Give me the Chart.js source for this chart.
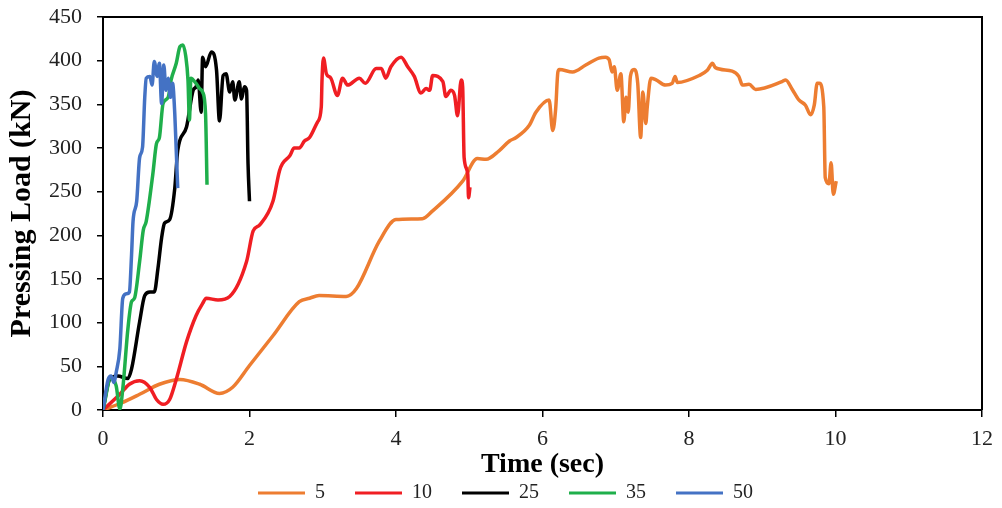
<!DOCTYPE html>
<html>
<head>
<meta charset="utf-8">
<script src="https://cdn.jsdelivr.net/npm/chart.js@4"></script>
<style>
  html, body { margin: 0; padding: 0; background: #ffffff; }
  canvas { display: block; }
</style>
</head>
<body>
<canvas id="chart" width="1002" height="508"></canvas>
<script>
// Pressing load vs. time for five pressing speeds
const seriesNames = ['5', '10', '25', '35', '50'];
const seriesColors = ['#ED7D31', '#F01E23', '#000000', '#1FAF4B', '#4472C4'];

const time5 = [0, 0.25, 0.5, 0.77, 1.05, 1.32, 1.59, 1.77, 2.0, 2.32, 2.68, 2.82, 2.95, 3.32, 3.46, 3.77, 4.0, 4.36, 4.5, 4.91, 5.11, 5.23, 5.41, 5.55, 5.64, 5.82, 5.91, 6.09, 6.14, 6.18, 6.21, 6.23, 6.41, 6.59, 6.77, 6.86, 6.91, 6.95, 6.98, 7.02, 7.07, 7.11, 7.14, 7.17, 7.2, 7.25, 7.3, 7.34, 7.37, 7.41, 7.43, 7.48, 7.55, 7.68, 7.77, 7.81, 7.84, 8.14, 8.25, 8.32, 8.36, 8.59, 8.68, 8.73, 8.82, 8.91, 9.27, 9.32, 9.41, 9.5, 9.59, 9.66, 9.71, 9.75, 9.78, 9.84, 9.86, 9.91, 9.94, 9.97, 10.01];
const load5 = [0, 8, 18, 29.5, 35, 29.5, 19, 26, 51, 85, 124, 128, 131, 130, 139, 193, 218, 219, 228, 262, 288, 287, 297, 308, 312, 326, 341, 355, 320, 345, 387, 390, 387, 395, 403, 404, 401, 387, 393, 366, 385, 330, 358, 341, 382, 390, 374, 312, 364, 328, 347, 380, 378, 372, 374, 382, 375, 383, 389, 397, 392, 388, 382, 372, 373, 367, 376, 378, 367, 355, 349, 338, 349, 374, 374, 347, 266, 259, 283, 247, 262];

const time10 = [0, 0.23, 0.36, 0.5, 0.64, 0.73, 0.82, 0.91, 1.0, 1.14, 1.27, 1.36, 1.41, 1.57, 1.73, 1.96, 2.05, 2.14, 2.32, 2.41, 2.45, 2.55, 2.61, 2.68, 2.75, 2.82, 2.93, 2.98, 2.99, 3.01, 3.05, 3.11, 3.2, 3.27, 3.34, 3.5, 3.58, 3.73, 3.8, 3.86, 3.93, 4.07, 4.16, 4.25, 4.34, 4.41, 4.46, 4.5, 4.64, 4.68, 4.75, 4.8, 4.84, 4.89, 4.91, 4.93, 4.98, 4.99, 5.01];
const load10 = [0, 18, 29.5, 33.5, 25.7, 12, 6.5, 12, 35, 78, 108, 122, 128, 126, 130, 170, 205, 212, 239, 274, 282, 291, 300, 300, 308, 312, 330, 347, 378, 403, 385, 380, 360, 380, 372, 380, 374, 391, 391, 380, 393, 404, 393, 382, 363, 368, 366, 383, 376, 359, 366, 360, 337, 378, 370, 289, 270, 243, 255];

const time25 = [0, 0.09, 0.2, 0.34, 0.39, 0.5, 0.57, 0.64, 0.7, 0.75, 0.8, 0.84, 0.91, 0.98, 1.02, 1.14, 1.23, 1.27, 1.3, 1.34, 1.36, 1.4, 1.48, 1.55, 1.59, 1.64, 1.68, 1.73, 1.77, 1.8, 1.86, 1.89, 1.93, 1.96, 1.98, 2.0];
const load25 = [0, 35, 39, 36, 47, 101, 131, 135, 135, 162, 197, 214, 218, 254, 297, 324, 366, 370, 378, 341, 404, 393, 410, 389, 331, 383, 385, 364, 376, 355, 376, 356, 370, 366, 282, 239];

const time35 = [0, 0.11, 0.18, 0.23, 0.27, 0.34, 0.39, 0.43, 0.5, 0.55, 0.59, 0.68, 0.73, 0.77, 0.82, 0.89, 0.93, 1.0, 1.05, 1.09, 1.13, 1.16, 1.18, 1.2, 1.27, 1.32, 1.36, 1.4, 1.42];
const load35 = [0, 37, 27.7, 1, 24, 93, 124, 128, 170, 206, 216, 270, 305, 312, 351, 358, 378, 397, 416, 418, 405, 378, 332, 380, 374, 368, 364, 339, 258];

const time50 = [0, 0.07, 0.11, 0.15, 0.18, 0.23, 0.27, 0.32, 0.36, 0.39, 0.41, 0.46, 0.5, 0.54, 0.57, 0.59, 0.64, 0.67, 0.7, 0.74, 0.77, 0.8, 0.83, 0.86, 0.89, 0.92, 0.95, 0.98, 1.0, 1.02];
const load50 = [0, 35, 39, 31.5, 43, 70, 128, 133, 135, 178, 216, 239, 289, 301, 358, 380, 382, 372, 399, 382, 397, 351, 395, 366, 380, 358, 374, 339, 297, 254];

const xTicks = [0, 2, 4, 6, 8, 10, 12];
const yTicks = [0, 50, 100, 150, 200, 250, 300, 350, 400, 450];

const timeSeries = [time5, time10, time25, time35, time50];
const loadSeries = [load5, load10, load25, load35, load50];

const serif = "'Liberation Serif', 'Times New Roman', serif";

const datasets = seriesNames.map((name, i) => ({
  label: name,
  data: timeSeries[i].map((t, k) => ({ x: t, y: loadSeries[i][k] })),
  borderColor: seriesColors[i],
  backgroundColor: seriesColors[i],
  borderWidth: 3.5,
  pointRadius: 0,
  showLine: true,
  fill: false,
  cubicInterpolationMode: 'monotone',
  order: seriesNames.length - i
}));

// frame on the top and right of the plot area
const plotFrame = {
  id: 'plotFrame',
  afterDatasetsDraw(chart) {
    const { ctx, chartArea: a } = chart;
    ctx.save();
    ctx.strokeStyle = '#000';
    ctx.lineWidth = 2;
    ctx.beginPath();
    ctx.moveTo(a.left, a.top);
    ctx.lineTo(a.right, a.top);
    ctx.lineTo(a.right, a.bottom);
    ctx.stroke();
    ctx.restore();
  }
};

new Chart(document.getElementById('chart'), {
  type: 'scatter',
  data: { datasets },
  plugins: [plotFrame],
  options: {
    responsive: false,
    animation: false,
    layout: { padding: { left: 28, right: 19, top: 17, bottom: -5 } },
    plugins: {
      tooltip: { enabled: false },
      legend: {
        position: 'bottom',
        labels: {
          boxWidth: 47,
          boxHeight: 3,
          padding: 30,
          color: '#222',
          font: { family: serif, size: 20 },
          sort: (a, b) => a.datasetIndex - b.datasetIndex,
          generateLabels(chart) {
            return Chart.defaults.plugins.legend.labels.generateLabels(chart)
              .map(item => Object.assign(item, { lineWidth: 0 }));
          }
        }
      }
    },
    scales: {
      x: {
        type: 'linear',
        min: 0,
        max: 12,
        afterBuildTicks(scale) { scale.ticks = xTicks.map(v => ({ value: v })); },
        afterFit(scale) { scale.height = 43; },
        ticks: { color: '#222', padding: 9, font: { family: serif, size: 22 } },
        grid: { drawOnChartArea: false, drawTicks: true, tickLength: 7, color: '#000', lineWidth: 1.5 },
        border: { display: true, color: '#000', width: 2 },
        title: {
          display: true,
          text: 'Time (sec)',
          color: '#000',
          font: { family: serif, size: 28, weight: 'bold', lineHeight: 1 },
          padding: { top: 0, bottom: -26 }
        }
      },
      y: {
        type: 'linear',
        min: 0,
        max: 450,
        afterBuildTicks(scale) { scale.ticks = yTicks.map(v => ({ value: v })); },
        afterFit(scale) {
          scale.width = 75;
          scale.paddingTop = 0;
          scale.paddingBottom = 0;
        },
        ticks: { color: '#222', padding: 15, font: { family: serif, size: 22 } },
        grid: { drawOnChartArea: false, drawTicks: true, tickLength: 6, color: '#000', lineWidth: 1.5 },
        border: { display: true, color: '#000', width: 2 },
        title: {
          display: true,
          text: 'Pressing Load (kN)',
          color: '#000',
          font: { family: serif, size: 30, weight: 'bold', lineHeight: 1 },
          padding: { top: -21, bottom: 0 }
        }
      }
    }
  }
});
</script>
</body>
</html>
